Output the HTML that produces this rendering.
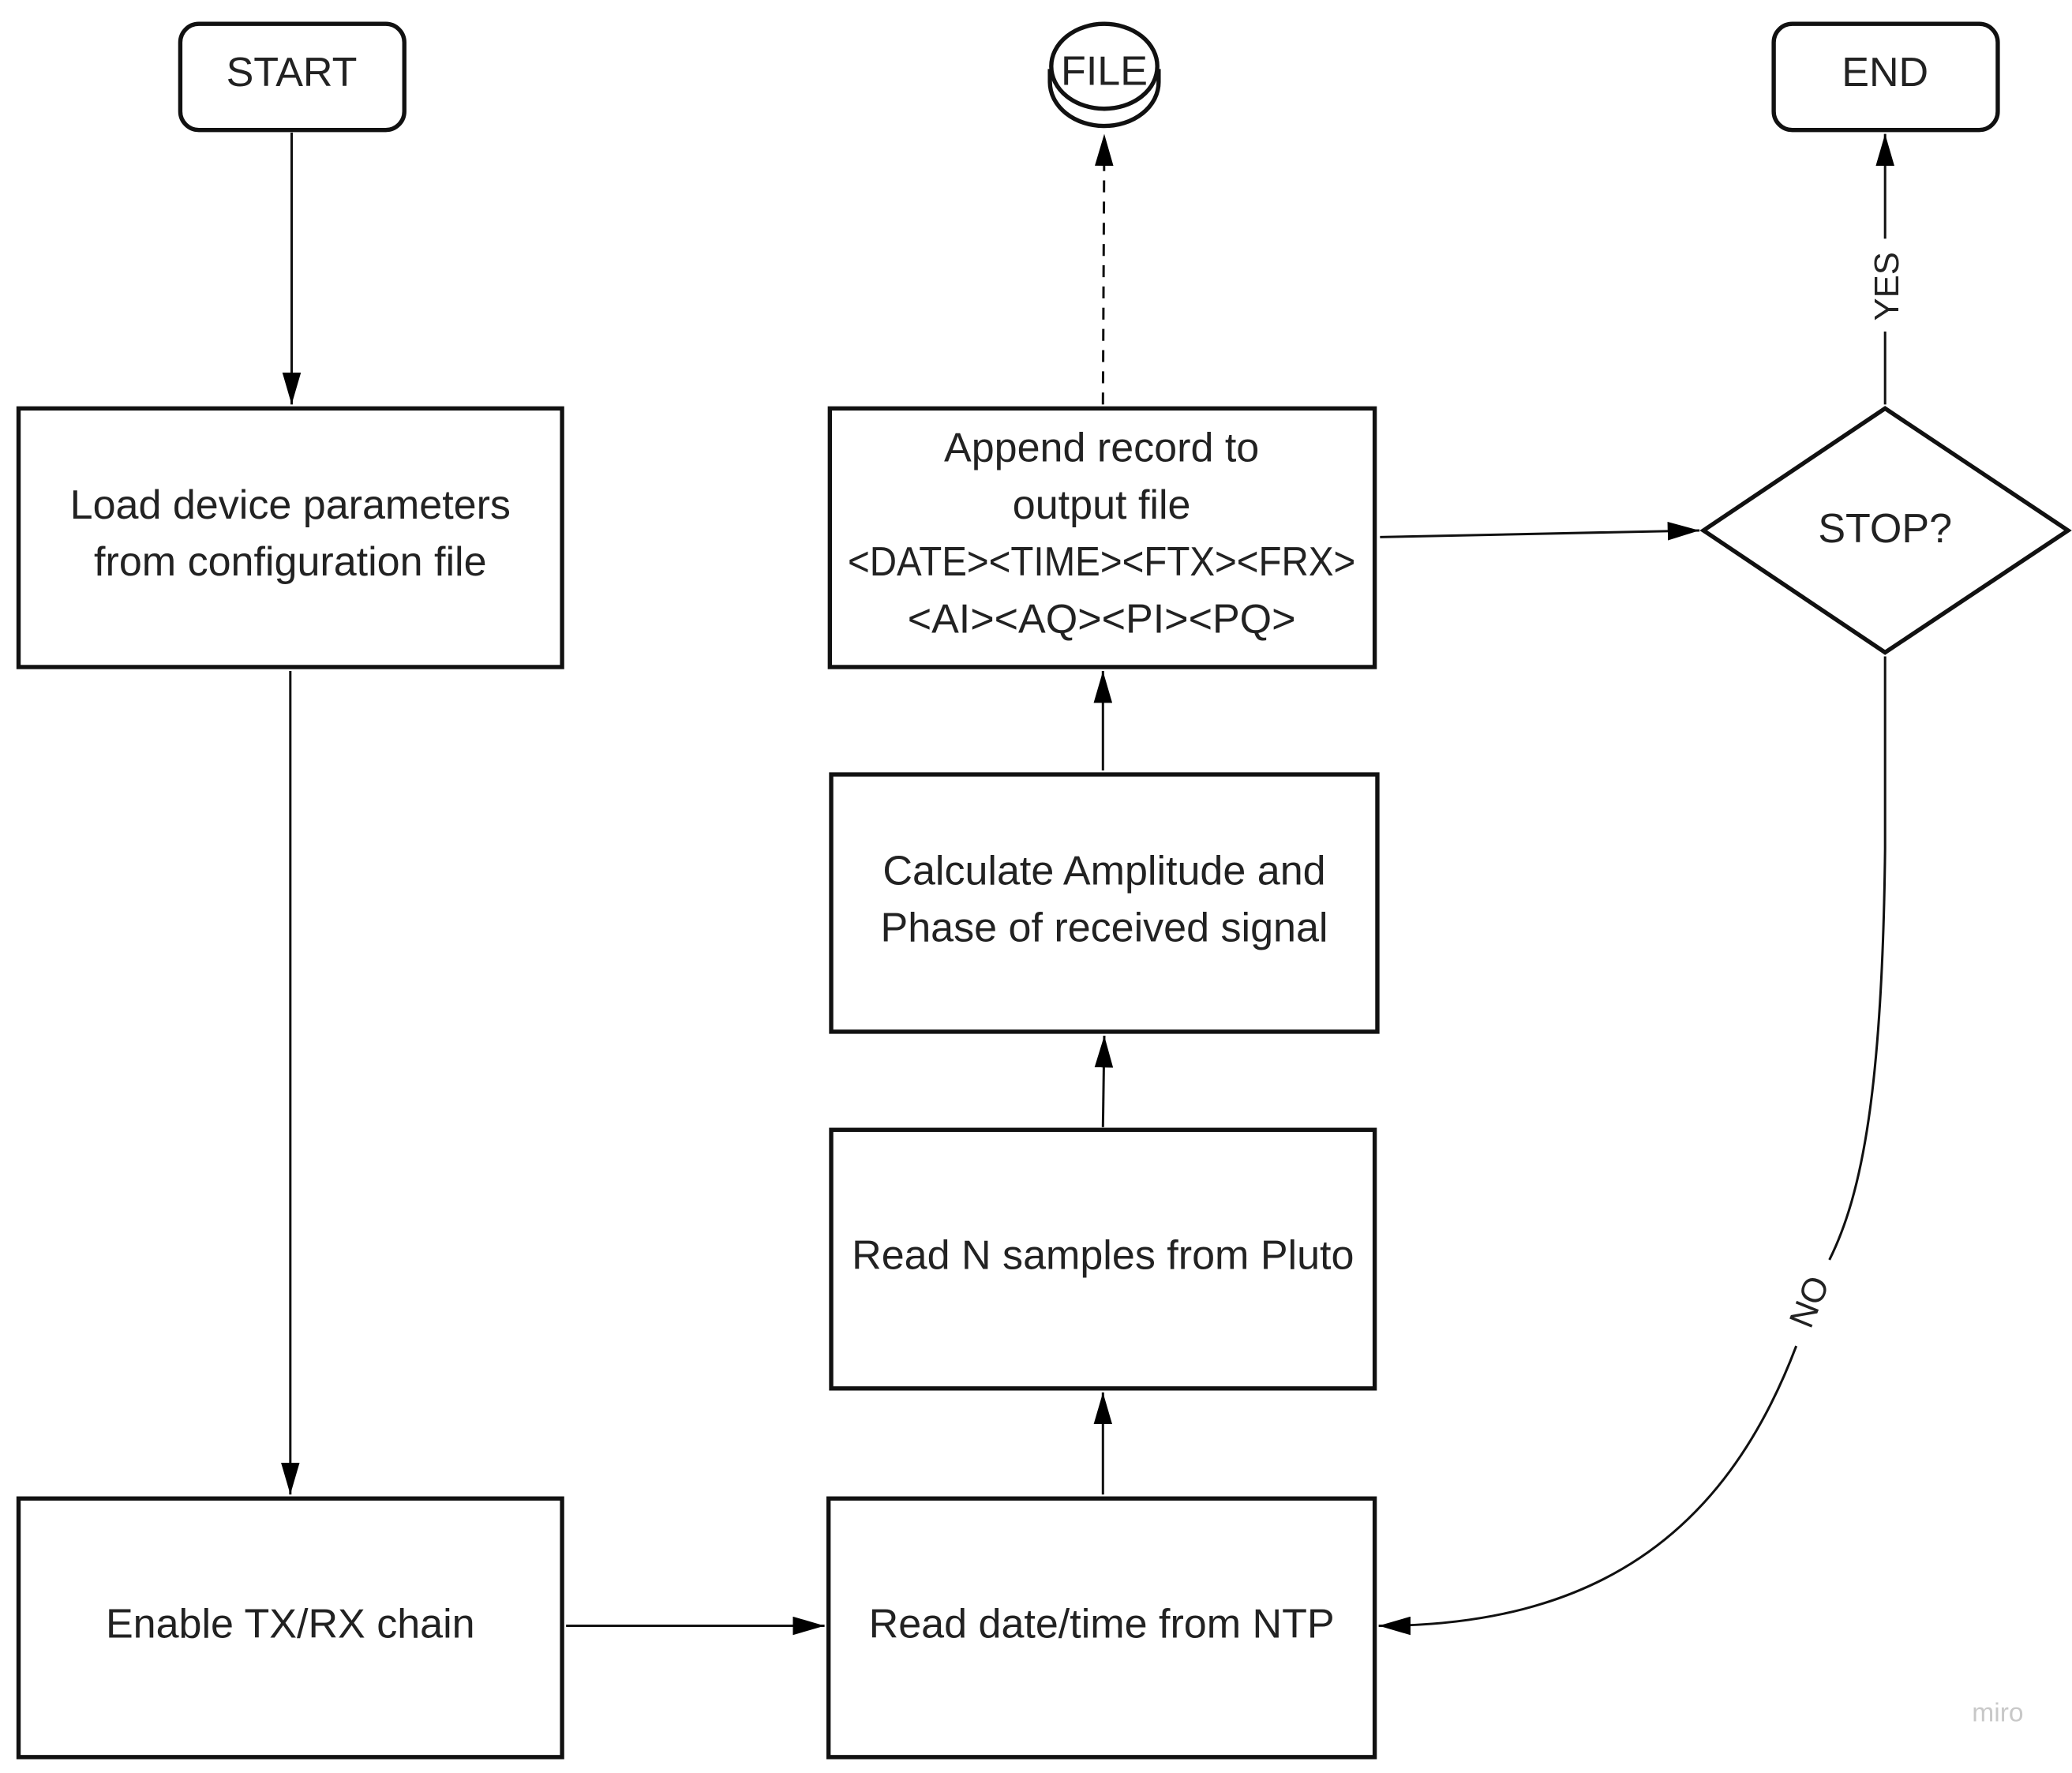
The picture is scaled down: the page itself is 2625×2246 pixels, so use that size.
<!DOCTYPE html>
<html><head><meta charset="utf-8"><style>
html,body{margin:0;padding:0;background:#fff;}
svg{display:block;}
text{font-family:"Liberation Sans",sans-serif;fill:#222;}
</style></head><body>
<svg width="2625" height="2246" viewBox="0 0 1563 1337" preserveAspectRatio="none" xmlns="http://www.w3.org/2000/svg">
<defs>
<marker id="a" viewBox="0 0 24 14" refX="24" refY="7" markerWidth="24" markerHeight="14" markerUnits="userSpaceOnUse" orient="auto">
<path d="M0,0 L24,7 L0,14 Z" fill="#000"/>
</marker>
</defs>
<g fill="none" stroke="#111" stroke-width="3.2">
<rect x="136" y="18" width="169" height="80" rx="14"/>
<rect x="1338" y="18" width="169" height="80" rx="14"/>
<rect x="14" y="308" width="410" height="195"/>
<rect x="14" y="1130" width="410" height="195"/>
<rect x="626" y="308" width="411" height="195"/>
<rect x="627" y="584" width="412" height="194"/>
<rect x="627" y="852" width="410" height="195"/>
<rect x="625" y="1130" width="412" height="195"/>
<path d="M1422,308 L1560,400 L1422,492 L1285,400 Z"/>
<path d="M792,52 L792,62 A41,33 0 0 0 874,62 L874,52"/>
<ellipse cx="833" cy="50" rx="40" ry="32"/>
</g>
<g fill="none" stroke="#111" stroke-width="1.8">
<line x1="220" y1="100" x2="220" y2="305" marker-end="url(#a)"/>
<line x1="219" y1="506" x2="219" y2="1127" marker-end="url(#a)"/>
<line x1="427" y1="1226" x2="622" y2="1226" marker-end="url(#a)"/>
<line x1="832" y1="1127" x2="832" y2="1050" marker-end="url(#a)"/>
<line x1="832" y1="850" x2="833" y2="781" marker-end="url(#a)"/>
<line x1="832" y1="581" x2="832" y2="506" marker-end="url(#a)"/>
<line x1="832" y1="305" x2="833" y2="101" stroke-dasharray="9,7" marker-end="url(#a)"/>
<line x1="1041" y1="405" x2="1282" y2="400" marker-end="url(#a)"/>
<line x1="1422" y1="305" x2="1422" y2="250"/>
<line x1="1422" y1="180" x2="1422" y2="101" marker-end="url(#a)"/>
<path d="M1422,495 L1422,640 C1420,820 1405,900 1380,950"/>
<path d="M1355,1015 C1300,1160 1200,1226 1040,1226" marker-end="url(#a)"/>
</g>
<g font-size="31" text-anchor="middle">
<text x="220" y="65">START</text>
<text x="1422" y="65">END</text>
<text x="833" y="64">FILE</text>
<text x="219" y="391">Load device parameters</text>
<text x="219" y="434">from configuration file</text>
<text x="219" y="1235">Enable TX/RX chain</text>
<text x="831" y="348">Append record to</text>
<text x="831" y="391">output file</text>
<text x="831" y="434" textLength="383" lengthAdjust="spacingAndGlyphs">&lt;DATE&gt;&lt;TIME&gt;&lt;FTX&gt;&lt;FRX&gt;</text>
<text x="831" y="477">&lt;AI&gt;&lt;AQ&gt;&lt;PI&gt;&lt;PQ&gt;</text>
<text x="833" y="667">Calculate Amplitude and</text>
<text x="833" y="710">Phase of received signal</text>
<text x="832" y="957">Read N samples from Pluto</text>
<text x="831" y="1235">Read date/time from NTP</text>
<text x="1422" y="409">STOP?</text>
<text x="0" y="0" font-size="26" transform="translate(1432,216) rotate(-90)">YES</text>
<text x="0" y="0" font-size="26" transform="translate(1373,985) rotate(-68)">NO</text>
</g>
<text x="1507" y="1298" font-size="20" text-anchor="middle" style="fill:#c8c8c8">miro</text>
</svg>
</body></html>
